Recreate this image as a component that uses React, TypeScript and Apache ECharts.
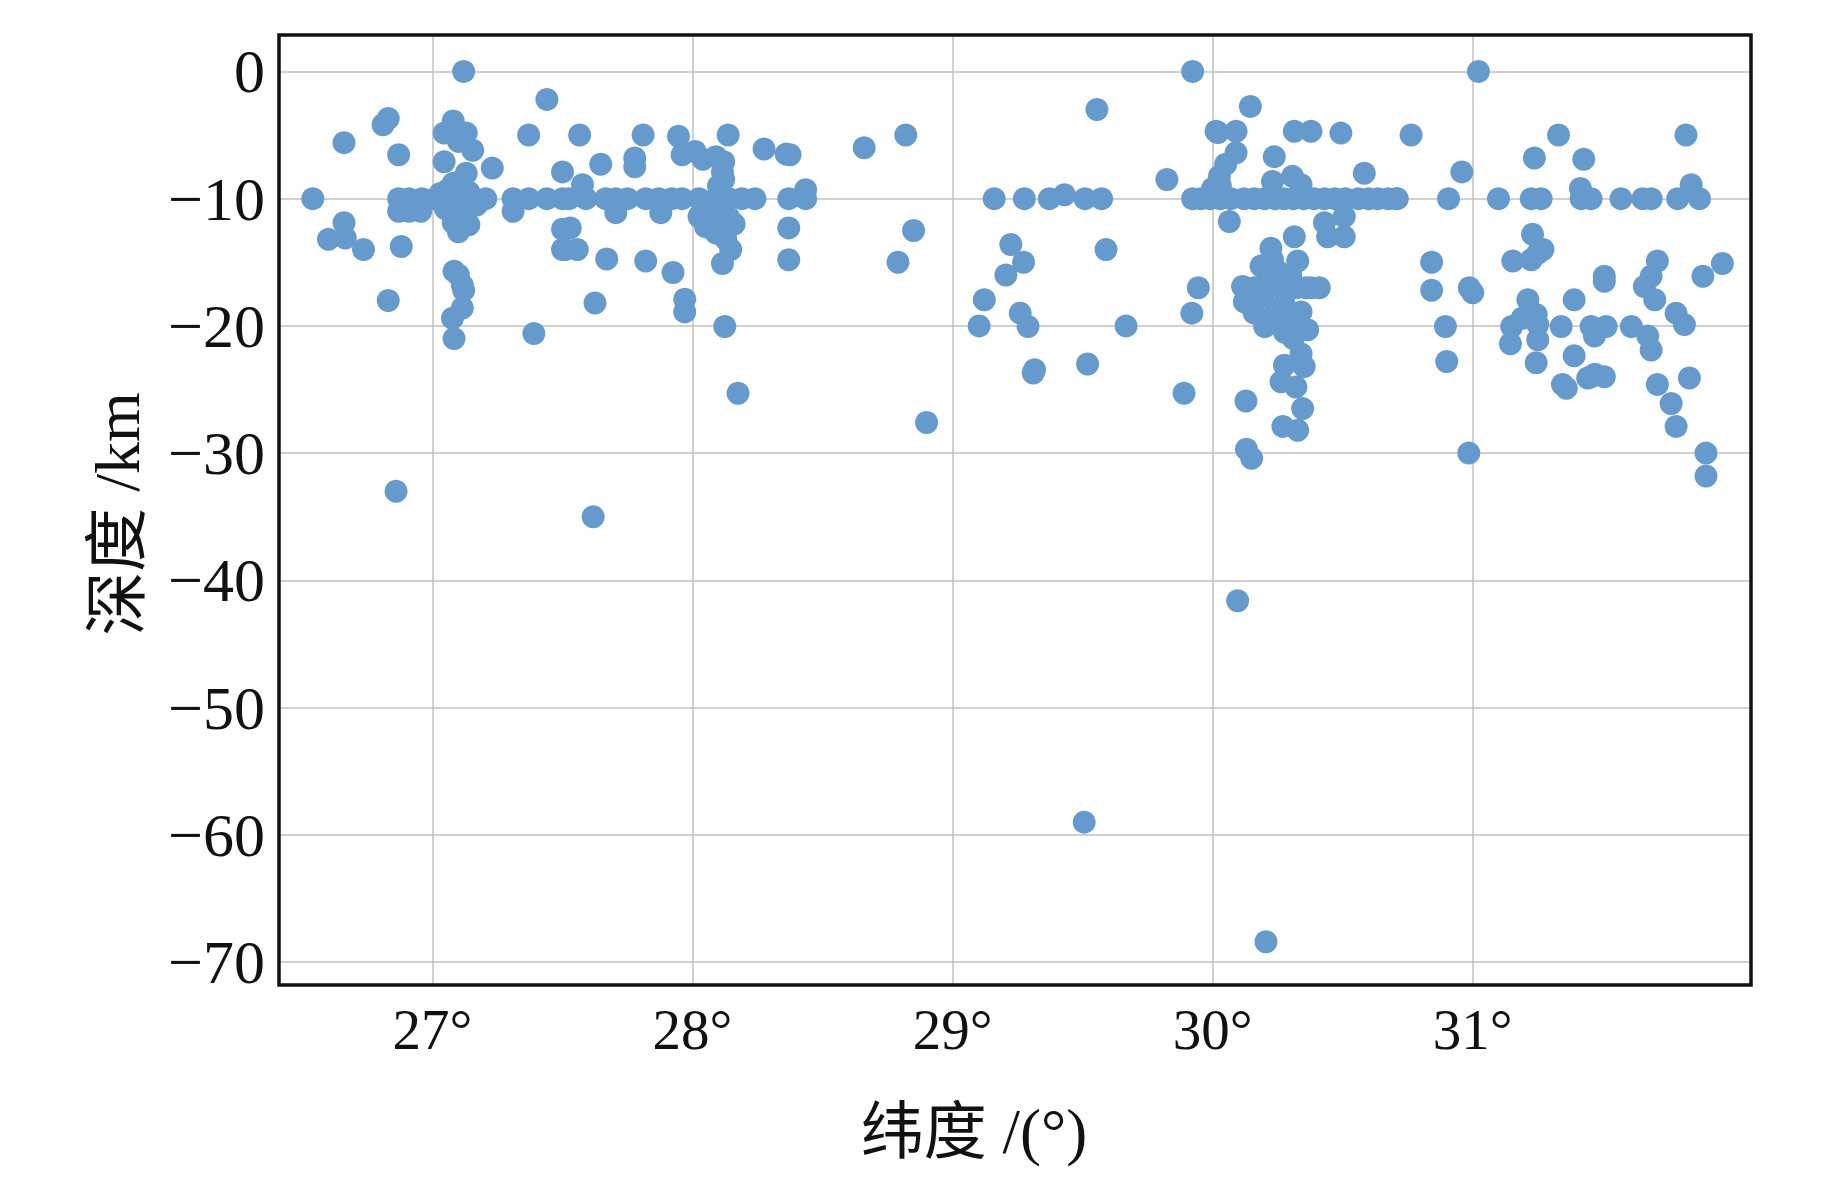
import React, { useEffect, useRef } from "react";
import * as echarts from "echarts";

// Each entry: [latitude (°), depth (km)]
const west: [number, number][] = [
  [26.54, -10], [26.6, -13.2], [26.66, -11.9], [26.665, -13.1], [26.735, -14.0],
  [26.66, -5.6], [26.81, -4.2], [26.83, -3.7], [26.87, -6.55], [26.83, -18.0],
  [26.86, -33.0], [26.88, -13.76],
  [26.87, -10], [26.91, -10], [26.96, -10], [27.01, -10], [27.05, -10], [27.08, -10],
  [27.12, -10], [27.16, -10], [27.205, -10],
  [26.87, -11.0], [26.91, -11.0], [26.955, -11.0],
  [27.12, 0], [27.44, -2.2],
  [27.08, -3.9], [27.045, -4.85], [27.13, -4.85], [27.155, -6.2], [27.1, -5.5],
  [27.23, -7.6], [27.045, -7.1], [27.13, -8.0], [27.08, -8.8], [27.06, -9.3],
  [27.11, -9.0], [27.14, -9.5], [27.03, -9.6], [27.09, -10.6], [27.05, -10.8],
  [27.13, -10.7], [27.17, -10.5],
  [27.08, -11.9], [27.14, -12.05], [27.1, -12.6],
  [27.31, -10], [27.37, -10], [27.44, -10], [27.5, -10], [27.31, -11.0],
  [27.37, -5.0], [27.5, -12.4], [27.5, -14.0],
  [27.083, -15.7], [27.115, -16.8], [27.115, -18.6], [27.077, -19.4], [27.083, -21.0],
  [27.1, -16.0], [27.12, -17.2], [27.39, -20.6],
];

const central: [number, number][] = [
  [27.566, -5.0], [27.81, -5.0], [27.946, -5.1], [28.137, -5.0],
  [27.5, -7.9], [27.647, -7.3], [27.778, -6.8], [27.778, -7.5],
  [27.96, -6.55], [28.01, -6.3], [28.04, -6.9], [28.12, -7.1], [28.115, -7.9], [28.09, -6.7],
  [28.275, -6.1], [28.36, -6.5], [28.375, -6.55], [27.577, -8.9],
  [27.525, -10], [27.59, -10], [27.666, -10], [27.705, -10], [27.75, -10], [27.82, -10],
  [27.87, -10], [27.92, -10], [27.96, -10], [28.025, -10], [28.09, -10], [28.14, -10],
  [28.19, -10], [28.24, -10], [28.37, -10], [28.435, -10],
  [28.435, -9.3], [28.1, -9.0], [28.12, -8.5],
  [27.705, -11.1], [27.878, -11.1],
  [28.025, -11.4], [28.05, -12.2], [28.09, -12.7], [28.128, -13.2], [28.147, -14.0],
  [28.06, -10.8], [28.1, -11.0], [28.14, -11.5], [28.08, -11.8], [28.13, -12.3],
  [28.16, -12.0], [28.11, -10.5],
  [27.53, -12.3], [28.37, -12.3], [27.51, -14.0], [27.557, -14.0], [27.67, -14.75],
  [27.82, -14.9], [27.925, -15.8], [28.115, -15.1], [28.37, -14.8],
  [27.97, -17.9], [27.97, -18.9], [27.625, -18.2], [28.124, -20.05], [28.175, -25.3],
  [27.618, -35.0],
  [28.66, -6.0], [28.82, -5.0], [28.79, -15.0], [28.85, -12.5], [28.9, -27.6],
];

const middle: [number, number][] = [
  [29.923, 0], [29.555, -3.0], [30.02, -4.8], [29.824, -8.5],
  [29.16, -10], [29.276, -10], [29.372, -10], [29.43, -9.7], [29.509, -10], [29.573, -10],
  [29.923, -10],
  [29.224, -13.6], [29.273, -15.0], [29.205, -16.0], [29.122, -17.95], [29.102, -20.0],
  [29.26, -19.0], [29.29, -20.05], [29.59, -14.0], [29.667, -20.0], [29.519, -23.0],
  [29.31, -23.7], [29.315, -23.45], [29.945, -17.0], [29.92, -19.0], [29.89, -25.3],
  [29.506, -59.0], [30.096, -41.6], [30.205, -68.4],
];

const eastCluster: [number, number][] = [
  [30.145, -2.75], [30.013, -4.7], [30.09, -4.7], [30.314, -4.7], [30.378, -4.7], [30.493, -4.85],
  [30.09, -6.4], [30.05, -7.3], [30.026, -8.25], [30.237, -6.7],
  [30.23, -8.65], [30.307, -8.25], [30.34, -8.9], [30.583, -8.0], [30.0, -9.2], [30.03, -9.0],
  [29.955, -10], [29.99, -10], [30.03, -10], [30.07, -10], [30.12, -10], [30.16, -10],
  [30.2, -10], [30.24, -10], [30.275, -10], [30.31, -10], [30.35, -10], [30.39, -10],
  [30.43, -10], [30.47, -10], [30.51, -10], [30.56, -10], [30.6, -10], [30.635, -10],
  [30.675, -10], [30.71, -10],
  [30.064, -11.8], [30.506, -11.4], [30.43, -11.9], [30.314, -13.0], [30.442, -13.0], [30.506, -13.0],
  [30.224, -13.9], [30.327, -14.9], [30.186, -15.3], [30.25, -15.7], [30.115, -16.9],
  [30.378, -17.0], [30.21, -16.5], [30.275, -17.2], [30.122, -18.1], [30.195, -17.7],
  [30.275, -18.3], [30.34, -18.9], [30.16, -19.0], [30.2, -20.05], [30.276, -20.5],
  [30.365, -20.3], [30.34, -22.2], [30.276, -23.1], [30.352, -23.2], [30.263, -24.4],
  [30.32, -24.8], [30.346, -26.5], [30.128, -25.9], [30.27, -27.9], [30.327, -28.2],
  [30.13, -29.7], [30.15, -30.4],
  [30.16, -17.0], [30.24, -19.0], [30.3, -16.0], [30.32, -17.0], [30.36, -17.0],
  [30.41, -17.0], [30.23, -14.8], [30.26, -16.8], [30.29, -19.8], [30.15, -18.5], [30.31, -21.0],
];

const east: [number, number][] = [
  [31.022, 0], [30.763, -5.0], [31.33, -5.0], [31.237, -6.8], [31.427, -6.9], [30.958, -7.9],
  [30.705, -10], [30.907, -10], [31.099, -10], [31.225, -10], [31.263, -10], [31.417, -10],
  [31.455, -10], [31.414, -9.2],
  [31.23, -12.8], [31.25, -14.3], [31.225, -14.8], [31.154, -14.9], [31.27, -14.0],
  [30.842, -15.0], [30.842, -17.2], [30.987, -17.0], [31.0, -17.4],
  [31.212, -17.95], [31.244, -19.1], [31.39, -17.95], [31.19, -19.4],
  [31.15, -20.05], [31.25, -19.9], [31.34, -20.05], [31.455, -20.05], [31.468, -20.8],
  [30.895, -20.05], [31.145, -21.4], [31.25, -21.1], [31.244, -22.9], [31.39, -22.35],
  [31.442, -24.1], [31.47, -23.8], [31.36, -24.9], [31.345, -24.6], [30.9, -22.8],
  [30.985, -30.0],
];

const farEast: [number, number][] = [
  [31.82, -5.0],
  [31.57, -10], [31.654, -10], [31.686, -10], [31.788, -10], [31.872, -10], [31.84, -8.9],
  [31.71, -14.9], [31.686, -16.1], [31.66, -16.9], [31.7, -17.95],
  [31.506, -16.1], [31.506, -16.5], [31.885, -16.1], [31.96, -15.1],
  [31.513, -20.05], [31.61, -20.05], [31.673, -20.8], [31.686, -21.9],
  [31.782, -19.0], [31.814, -19.9],
  [31.455, -24.0], [31.506, -24.0], [31.71, -24.6], [31.833, -24.1], [31.763, -26.1],
  [31.782, -27.9], [31.897, -30.0], [31.897, -31.8],
];

const xTicks = [27, 28, 29, 30, 31];
const yTicks = [0, -10, -20, -30, -40, -50, -60, -70];
const xTitle = "纬度 /(°)";
const yTitle = "深度 /km";

const SERIF = "'Liberation Serif', 'Times New Roman', 'DejaVu Serif', 'Noto Sans CJK SC', serif";

export default function App() {
  const ref = useRef<HTMLDivElement>(null);

  useEffect(() => {
    if (!ref.current) return;
    const chart = echarts.init(ref.current, undefined, { renderer: "svg" });
    const points = [...west, ...central, ...middle, ...eastCluster, ...east, ...farEast];
    const gridLine = { show: true, lineStyle: { color: "#c4c0bc", width: 1.5 } };
    chart.setOption({
      animation: false,
      backgroundColor: "#ffffff",
      grid: {
        left: 279,
        top: 35,
        right: 92,
        bottom: 196,
        show: true,
        borderColor: "#111111",
        borderWidth: 3.5,
        backgroundColor: "transparent",
        z: 10,
      },
      xAxis: {
        type: "value",
        min: 26.41,
        max: 32.07,
        axisLine: { show: false },
        axisTick: { show: false, customValues: xTicks },
        axisLabel: {
          customValues: xTicks,
          formatter: (v: number) => `${v}°`,
          fontFamily: SERIF,
          fontSize: 57,
          color: "#111111",
          margin: 16,
        },
        splitLine: gridLine,
      },
      yAxis: {
        type: "value",
        min: -71.8,
        max: 2.86,
        axisLine: { show: false },
        axisTick: { show: false, customValues: yTicks },
        axisLabel: {
          customValues: yTicks,
          formatter: (v: number) => (v < 0 ? `\u2212${Math.abs(v)}` : `${v}`),
          fontFamily: SERIF,
          fontSize: 62,
          color: "#111111",
          margin: 14,
        },
        splitLine: gridLine,
      },
      graphic: [
        {
          type: "text",
          x: 974,
          y: 1132,
          style: {
            text: xTitle,
            fontFamily: SERIF,
            fontSize: 63,
            fill: "#111111",
            textAlign: "center",
            textVerticalAlign: "middle",
          },
        },
        {
          type: "text",
          x: 117,
          y: 514,
          rotation: Math.PI / 2,
          style: {
            text: yTitle,
            fontFamily: SERIF,
            fontSize: 64,
            fill: "#111111",
            textAlign: "center",
            textVerticalAlign: "middle",
          },
        },
      ],
      series: [
        {
          type: "scatter",
          data: points,
          symbol: "circle",
          symbolSize: 23,
          itemStyle: { color: "#6699cc", opacity: 1 },
          emphasis: { disabled: true },
        },
      ],
    });
    return () => chart.dispose();
  }, []);

  return (
    <div
      ref={ref}
      style={{ position: "fixed", left: 0, top: 0, width: 1843, height: 1181, background: "#fff" }}
    />
  );
}
